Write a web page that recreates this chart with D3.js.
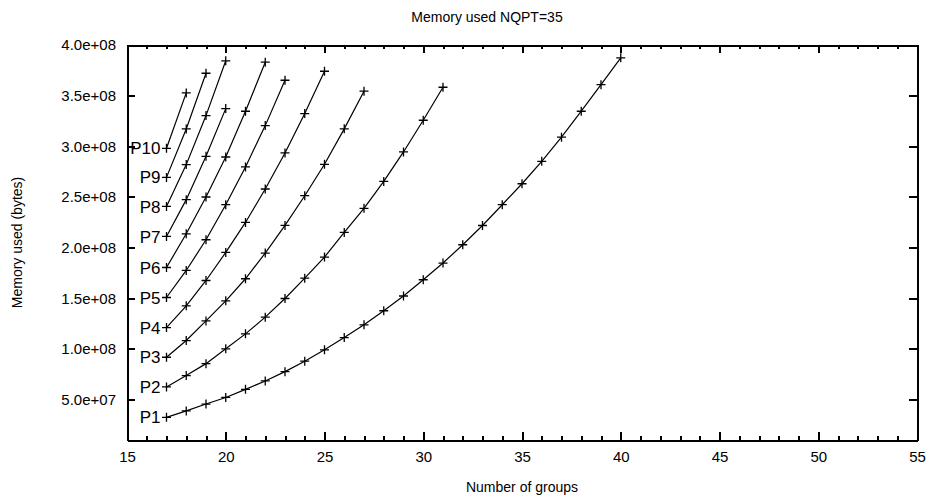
<!DOCTYPE html>
<html>
<head>
<meta charset="utf-8">
<script src="https://cdn.jsdelivr.net/npm/d3@7"></script>
<style>
  html, body { margin: 0; padding: 0; background: #fff; }
  svg text { font-family: "Liberation Sans", Arial, Helvetica, sans-serif; fill: #000; }
</style>
</head>
<body>
<svg id="chart" width="932" height="499"></svg>
<script>
// Memory used (bytes) per number of groups, one series per process count.
const seriesNames = ["P1", "P2", "P3", "P4", "P5", "P6", "P7", "P8", "P9", "P10"];
const firstGroup = 17;
const memP1 = [0.324e8, 0.387e8, 0.455e8, 0.520e8, 0.600e8, 0.683e8, 0.775e8, 0.878e8, 0.990e8, 1.111e8, 1.237e8, 1.376e8,
               1.522e8, 1.682e8, 1.847e8, 2.028e8, 2.218e8, 2.423e8, 2.630e8, 2.851e8, 3.090e8, 3.346e8, 3.608e8, 3.873e8];
const memP2 = [0.624e8, 0.736e8, 0.854e8, 1.000e8, 1.148e8, 1.313e8, 1.497e8, 1.698e8, 1.906e8, 2.149e8, 2.387e8, 2.653e8,
               2.944e8, 3.257e8, 3.583e8];
const memP3 = [0.917e8, 1.082e8, 1.276e8, 1.474e8, 1.692e8, 1.946e8, 2.219e8, 2.512e8, 2.822e8, 3.172e8, 3.544e8];
const memP4 = [1.210e8, 1.425e8, 1.675e8, 1.952e8, 2.248e8, 2.578e8, 2.934e8, 3.323e8, 3.741e8];
const memP5 = [1.507e8, 1.774e8, 2.077e8, 2.423e8, 2.796e8, 3.204e8, 3.652e8];
const memP6 = [1.803e8, 2.136e8, 2.499e8, 2.894e8, 3.346e8, 3.830e8];
const memP7 = [2.110e8, 2.473e8, 2.901e8, 3.372e8];
const memP8 = [2.406e8, 2.819e8, 3.303e8, 3.844e8];
const memP9 = [2.693e8, 3.171e8, 3.721e8];
const memP10 = [2.980e8, 3.527e8];
const seriesValues = [memP1, memP2, memP3, memP4, memP5, memP6, memP7, memP8, memP9, memP10];

const xTicks = [15, 20, 25, 30, 35, 40, 45, 50, 55];
const yTicks = [5e7, 1e8, 1.5e8, 2e8, 2.5e8, 3e8, 3.5e8, 4e8];
const yTickLabels = ["5.0e+07", "1.0e+08", "1.5e+08", "2.0e+08", "2.5e+08", "3.0e+08", "3.5e+08", "4.0e+08"];

const titleText = "Memory used NQPT=35";
const xLabel = "Number of groups";
const yLabel = "Memory used (bytes)";

const plot = { left: 127, right: 917, top: 45, bottom: 440 };
const svg = d3.select("#chart");

const x = d3.scaleLinear().domain([15, 55]).range([plot.left, plot.right]);
const y = d3.scaleLinear().domain([1e7, 4e8]).range([plot.bottom, plot.top]);

const fontSize = 15;
const minorX = d3.range(15, 56, 1);

function styleAxis(g) {
  g.select(".domain").attr("stroke", "#000").attr("stroke-width", 2).attr("shape-rendering", "crispEdges");
  g.selectAll(".tick line").attr("stroke", "#000").attr("stroke-width", 2).attr("shape-rendering", "crispEdges");
  g.selectAll("text").attr("font-size", fontSize).attr("font-family", null);
}

// minor ticks on x (bottom and top)
svg.append("g").attr("transform", `translate(0,${plot.bottom})`)
  .call(d3.axisBottom(x).tickValues(minorX).tickSize(-4).tickSizeOuter(0).tickFormat(""))
  .call(styleAxis);
svg.append("g").attr("transform", `translate(0,${plot.top})`)
  .call(d3.axisTop(x).tickValues(minorX).tickSize(-4).tickSizeOuter(0).tickFormat(""))
  .call(styleAxis);

// major ticks, bottom with labels, top mirrored
svg.append("g").attr("transform", `translate(0,${plot.bottom})`)
  .call(d3.axisBottom(x).tickValues(xTicks).tickSize(-8).tickSizeOuter(0).tickPadding(11).tickFormat(d3.format("d")))
  .call(styleAxis);
svg.append("g").attr("transform", `translate(0,${plot.top})`)
  .call(d3.axisTop(x).tickValues(xTicks).tickSize(-8).tickSizeOuter(0).tickFormat(""))
  .call(styleAxis);

// y axes
svg.append("g").attr("transform", `translate(${plot.left},0)`)
  .call(d3.axisLeft(y).tickValues(yTicks).tickSize(-8).tickSizeOuter(0).tickPadding(11)
    .tickFormat((d, i) => yTickLabels[i]))
  .call(styleAxis);
svg.append("g").attr("transform", `translate(${plot.right},0)`)
  .call(d3.axisRight(y).tickValues(yTicks).tickSize(-8).tickSizeOuter(0).tickFormat(""))
  .call(styleAxis);

// series lines and markers
const line = d3.line().x(d => x(d.g)).y(d => y(d.v));
const series = seriesValues.map((vals, i) => ({
  name: seriesNames[i],
  points: vals.map((v, j) => ({ g: firstGroup + j, v }))
}));

const sg = svg.append("g");
series.forEach(s => {
  sg.append("path").datum(s.points)
    .attr("d", line).attr("fill", "none").attr("stroke", "#000").attr("stroke-width", 1.2);
  sg.selectAll(null).data(s.points).enter().append("path")
    .attr("d", d => `M${x(d.g) - 4.5},${y(d.v)}h9M${x(d.g)},${y(d.v) - 4.5}v9`)
    .attr("stroke", "#000").attr("stroke-width", 1.3);
  const p0 = s.points[0];
  sg.append("text")
    .attr("x", x(p0.g) - 6).attr("y", y(p0.v)).attr("dy", "0.36em")
    .attr("text-anchor", "end").attr("font-size", fontSize + 2)
    .text(s.name);
});

// titles
svg.append("text").attr("x", 487).attr("y", 22).attr("text-anchor", "middle")
  .attr("font-size", fontSize - 1).text(titleText);
svg.append("text").attr("x", (plot.left + plot.right) / 2).attr("y", 492).attr("text-anchor", "middle")
  .attr("font-size", fontSize - 1).text(xLabel);
svg.append("text").attr("transform", `translate(22,${(plot.top + plot.bottom) / 2}) rotate(-90)`)
  .attr("text-anchor", "middle").attr("font-size", fontSize - 1).text(yLabel);
</script>
</body>
</html>
